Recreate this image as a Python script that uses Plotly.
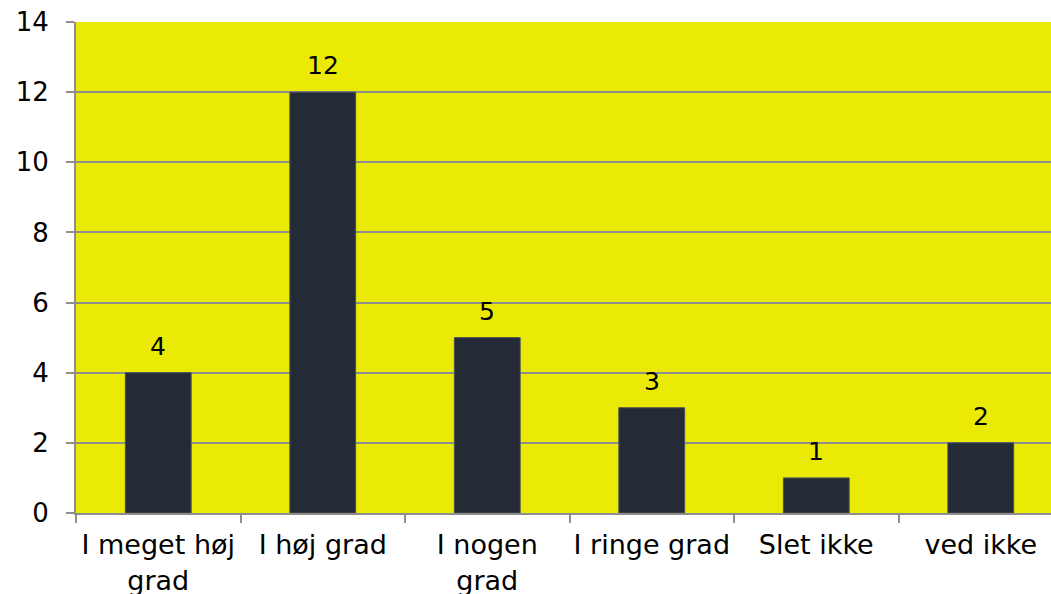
import plotly.graph_objects as go

categories = ["I meget høj<br>grad", "I høj grad", "I nogen<br>grad", "I ringe grad", "Slet ikke", "ved ikke"]
values = [4, 12, 5, 3, 1, 2]
y_ticks = [0, 2, 4, 6, 8, 10, 12, 14]

FONT = "DejaVu Sans, Verdana, sans-serif"
GRID = "#8E8E8E"

fig = go.Figure(
    go.Bar(
        x=categories,
        y=values,
        marker=dict(color="#252B36", line=dict(width=1, color="#4A4F58")),
        hoverinfo="x+y",
    )
)

for c, v in zip(categories, values):
    fig.add_annotation(
        x=c, y=v, text=str(v), showarrow=False,
        yanchor="bottom", yshift=10,
        font=dict(family=FONT, size=25, color="#000000"),
    )

fig.update_layout(
    width=1051,
    height=594,
    margin=dict(l=76, r=0, t=22, b=81, autoexpand=False),
    paper_bgcolor="#FFFFFF",
    plot_bgcolor="#EAEA06",
    bargap=0.6,
    showlegend=False,
    font=dict(family=FONT, size=26, color="#000000"),
)

fig.update_xaxes(
    type="category",
    range=[-0.5, 5.427],
    tickson="boundaries",
    ticks="outside",
    ticklen=8,
    tickcolor=GRID,
    tickwidth=2,
    showline=True,
    linecolor=GRID,
    linewidth=2,
    showgrid=False,
    automargin=False,
    tickangle=0,
    ticklabelstandoff=7,
    tickfont=dict(family=FONT, size=27, color="#000000"),
)

fig.update_yaxes(
    range=[0, 14],
    tickvals=y_ticks,
    ticks="outside",
    ticklen=8,
    tickcolor=GRID,
    tickwidth=2,
    showline=True,
    linecolor=GRID,
    linewidth=2,
    showgrid=True,
    gridcolor=GRID,
    gridwidth=2,
    zeroline=False,
    automargin=False,
    ticklabelstandoff=12,
    tickfont=dict(family=FONT, size=26, color="#000000"),
)

fig.write_html(
    "out.html",
    config={"displayModeBar": False},
    post_script="document.body.style.margin='0';document.body.style.overflow='hidden';",
)
